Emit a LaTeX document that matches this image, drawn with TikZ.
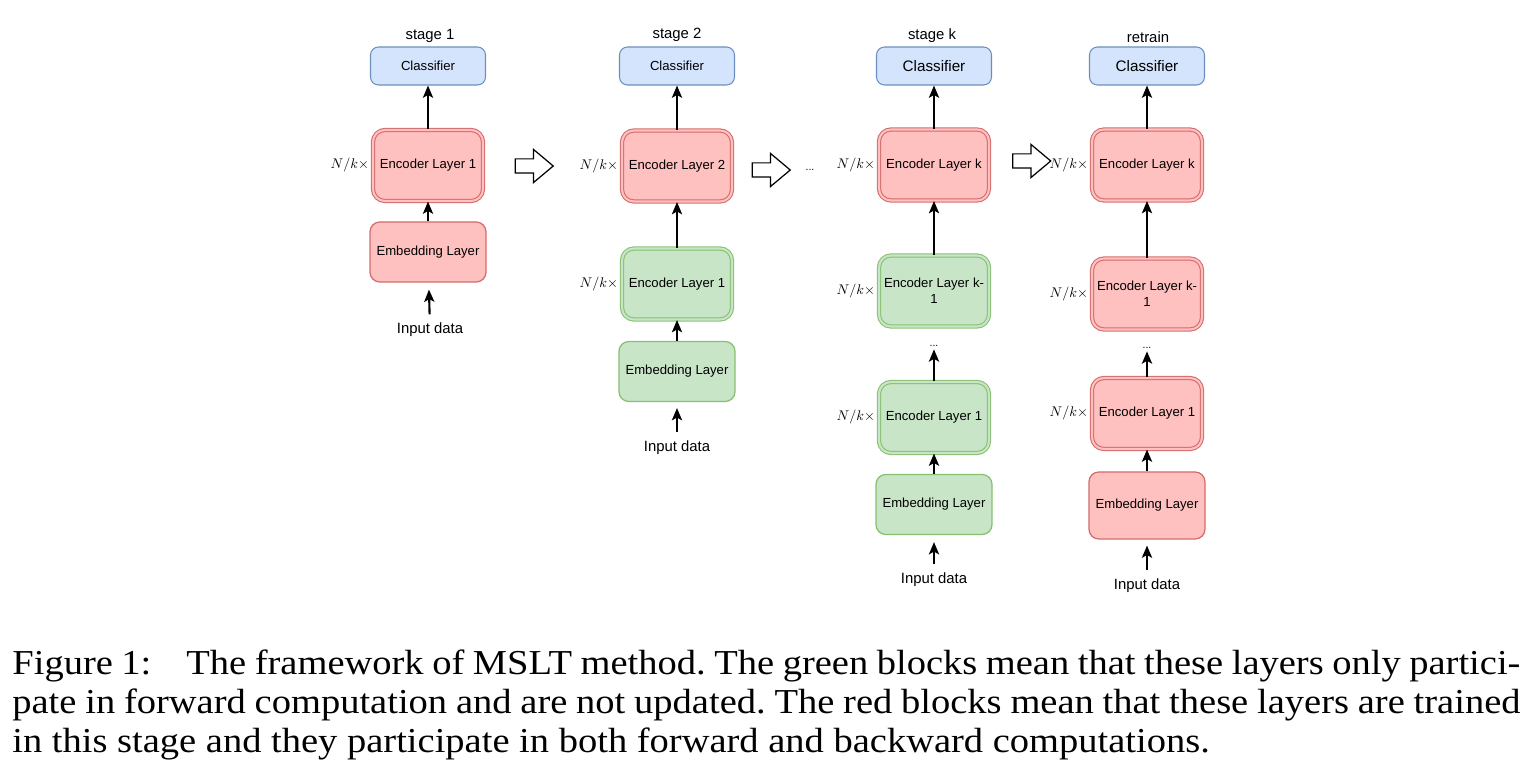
\documentclass[tikz,border=0pt]{standalone}
\usepackage{fontspec}
\setmainfont{Liberation Serif}
\setsansfont{Liberation Sans}
\newfontfamily\captionfont[FakeStretch=1.1]{Liberation Serif}
\usepackage{amsmath}
\usetikzlibrary{arrows.meta,shapes.arrows}

\definecolor{redfill}{HTML}{FFC0C0}
\definecolor{redline}{HTML}{D46A6A}
\definecolor{greenfill}{HTML}{C8E5C8}
\definecolor{greenline}{HTML}{86C06E}
\definecolor{bluefill}{HTML}{D4E4FC}
\definecolor{blueline}{HTML}{6C8EBF}

\newdimen\px \px=0.2857pt
\newcommand{\boxfont}{\sffamily\fontsize{3.75}{4.5}\selectfont}
\newcommand{\bigboxfont}{\sffamily\fontsize{4.35}{5}\selectfont}
\newcommand{\labelfont}{\sffamily\fontsize{4.25}{5}\selectfont}
\newcommand{\nk}{\scalebox{0.4}{$N/k{\times}$}}

\begin{document}
\begin{tikzpicture}[x=0.2857pt, y=-0.2857pt]
        % Define styles
        \tikzset{
            classifier/.style={rectangle, rounded corners=2.3pt, draw=blueline, fill=bluefill, line width=0.3pt, minimum width=115\px, minimum height=38\px, inner sep=0pt, font=\boxfont},
            trained/.style={rectangle, rounded corners=3.4pt, draw=redline, fill=redfill, double=redfill, double distance=0.6pt, line width=0.3pt, minimum width=110\px, minimum height=71\px, inner sep=0pt, align=center, font=\boxfont},
            frozen/.style={trained, draw=greenline, fill=greenfill, double=greenfill},
            trainedembed/.style={rectangle, rounded corners=2.8pt, draw=redline, fill=redfill, line width=0.35pt, minimum width=116\px, minimum height=60\px, inner sep=0pt, font=\boxfont},
            frozenembed/.style={trainedembed, draw=greenline, fill=greenfill},
            stagelabel/.style={inner sep=0pt, font=\labelfont},
            inputlabel/.style={inner sep=2.3pt, font=\labelfont},
            factor/.style={anchor=east, inner sep=0.8pt},
            moredots/.style={inner sep=0.6pt, font=\sffamily\fontsize{3}{3}\selectfont},
            bigarrow/.style={single arrow, draw, fill=white, line width=0.35pt, inner xsep=0pt, inner ysep=6.5\px, minimum width=32\px, minimum height=38\px, single arrow head extend=9.5\px, single arrow tip angle=80},
            arrow/.style={-{Stealth[length=3.5pt, width=2.9pt, inset=0.8pt]}, line width=0.6pt}
        }
        \useasboundingbox (0,0) rectangle (1532,768);

        % stage 1
        \node[stagelabel] (stage_label_1) at (430,36) {stage 1};
        \node[classifier] (classifier_node_1) at (428,66) {Classifier};
        \node[trained] (encoder_node_1_1) at (428,165.5) {Encoder Layer 1};
        \node[trainedembed] (embed_node_1) at (428,252) {Embedding Layer};
        \node[inputlabel] (input_node_1) at (430,330) {Input data};
        \node[factor] (factor_node_1_1) at (encoder_node_1_1.west) {\nk};
        \draw[arrow] (encoder_node_1_1) -- (classifier_node_1);
        \draw[arrow] (embed_node_1) -- (encoder_node_1_1);
        \draw[arrow, shorten >=2pt] (input_node_1) -- (embed_node_1);

        \node[bigarrow] (next_arrow_1) at (530,166) {};

        % stage 2
        \node[stagelabel] (stage_label_2) at (677,35) {stage 2};
        \node[classifier] (classifier_node_2) at (677,66) {Classifier};
        \node[trained] (encoder_node_2_2) at (677,166) {Encoder Layer 2};
        \node[frozen] (encoder_node_2_1) at (677,284) {Encoder Layer 1};
        \node[frozenembed] (embed_node_2) at (677,371.5) {Embedding Layer};
        \node[inputlabel] (input_node_2) at (677,448) {Input data};
        \node[factor] (factor_node_2_2) at (encoder_node_2_2.west) {\nk};
        \node[factor] (factor_node_2_1) at (encoder_node_2_1.west) {\nk};
        \draw[arrow] (encoder_node_2_2) -- (classifier_node_2);
        \draw[arrow] (encoder_node_2_1) -- (encoder_node_2_2);
        \draw[arrow] (embed_node_2) -- (encoder_node_2_1);
        \draw[arrow, shorten >=1.7pt] (input_node_2) -- (embed_node_2);

        \node[bigarrow] (next_arrow_2) at (767,170) {};
        \node[moredots] (skip_dots) at (810,170) {...};

        % stage k
        \node[stagelabel] (stage_label_3) at (932,36) {stage k};
        \node[classifier, font=\bigboxfont] (classifier_node_3) at (934,66) {Classifier};
        \node[trained] (encoder_node_3_k) at (934,165) {Encoder Layer k};
        \node[frozen] (encoder_node_3_km) at (934,291) {Encoder Layer k-\\1};
        \node[moredots] (dots_node_3) at (934,346) {...};
        \node[frozen] (encoder_node_3_1) at (934,417.5) {Encoder Layer 1};
        \node[frozenembed] (embed_node_3) at (934,504.5) {Embedding Layer};
        \node[inputlabel] (input_node_3) at (934,580) {Input data};
        \node[factor] (factor_node_3_k) at (encoder_node_3_k.west) {\nk};
        \node[factor] (factor_node_3_km) at (encoder_node_3_km.west) {\nk};
        \node[factor] (factor_node_3_1) at (encoder_node_3_1.west) {\nk};
        \draw[arrow] (encoder_node_3_k) -- (classifier_node_3);
        \draw[arrow] (encoder_node_3_km) -- (encoder_node_3_k);
        \draw[arrow] (encoder_node_3_1) -- (dots_node_3);
        \draw[arrow] (embed_node_3) -- (encoder_node_3_1);
        \draw[arrow, shorten >=2pt] (input_node_3) -- (embed_node_3);

        \node[bigarrow] (next_arrow_3) at (1027.5,161) {};

        % retrain
        \node[stagelabel] (stage_label_4) at (1148,36.7) {retrain};
        \node[classifier, font=\bigboxfont] (classifier_node_4) at (1147,66) {Classifier};
        \node[trained] (encoder_node_4_k) at (1147,165) {Encoder Layer k};
        \node[trained] (encoder_node_4_km) at (1147,294) {Encoder Layer k-\\1};
        \node[moredots] (dots_node_4) at (1147,348) {...};
        \node[trained] (encoder_node_4_1) at (1147,413.5) {Encoder Layer 1};
        \node[trainedembed, minimum height=67\px] (embed_node_4) at (1147,505.5) {Embedding Layer};
        \node[inputlabel] (input_node_4) at (1147,586) {Input data};
        \node[factor] (factor_node_4_k) at (encoder_node_4_k.west) {\nk};
        \node[factor] (factor_node_4_km) at (encoder_node_4_km.west) {\nk};
        \node[factor] (factor_node_4_1) at (encoder_node_4_1.west) {\nk};
        \draw[arrow] (encoder_node_4_k) -- (classifier_node_4);
        \draw[arrow] (encoder_node_4_km) -- (encoder_node_4_k);
        \draw[arrow] (encoder_node_4_1) -- (dots_node_4);
        \draw[arrow] (embed_node_4) -- (encoder_node_4_1);
        \draw[arrow, shorten >=1.7pt] (input_node_4) -- (embed_node_4);

        % Caption
        \node[anchor=base west, text width=1508\px, align=justify, inner sep=0pt, font=\captionfont\fontsize{10}{11.14}\selectfont\frenchspacing] (caption_node) at (11.7,674.3) {Figure 1:\quad The framework of MSLT method. The green blocks mean that these layers only partici-\linebreak pate in forward computation and are not updated. The red blocks mean that these layers are trained\linebreak in this stage and they participate in both forward and backward computations.};
    \end{tikzpicture}
\end{document}
